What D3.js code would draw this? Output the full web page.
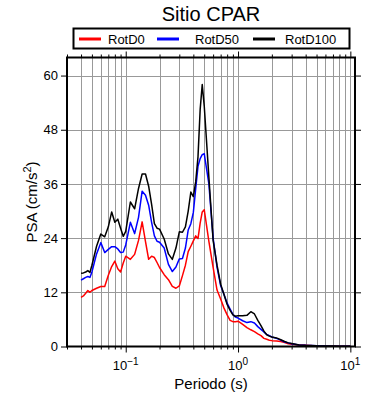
<!DOCTYPE html>
<html>
<head>
<meta charset="utf-8">
<style>
  body { margin: 0; background: white; font-family: "Liberation Sans", Arial, Helvetica, sans-serif; }
  svg { display: block; }
</style>
</head>
<body>
<svg id="chart" width="390" height="400"></svg>
<script src="https://cdn.jsdelivr.net/npm/d3@7"></script>
<script>
// periods (s) and PSA values (cm/s2)
var periods = [0.04, 0.042, 0.044, 0.046, 0.048, 0.05, 0.055, 0.06, 0.065, 0.07, 0.075, 0.08, 0.085, 0.09, 0.095,
  0.1, 0.11, 0.12, 0.13, 0.14, 0.15, 0.16, 0.17, 0.18, 0.19, 0.2, 0.22, 0.24, 0.26, 0.28, 0.3, 0.32, 0.34, 0.36, 0.38,
  0.4, 0.42, 0.44, 0.46, 0.48, 0.5, 0.55, 0.6, 0.65, 0.7, 0.75, 0.8, 0.85, 0.9, 0.95,
  1.0, 1.1, 1.2, 1.3, 1.4, 1.5, 1.6, 1.7, 1.8, 1.9, 2.0, 2.2, 2.4, 2.6, 2.8, 3.0, 3.5, 4.0, 5, 6, 7, 8, 10];

var rotD0 = [10.9, 11.2, 11.8, 12.4, 12.0, 12.4, 12.9, 13.3, 13.3, 15.8, 17.7, 18.9, 17.2, 16.5, 18.5,
  20.0, 19.3, 20.4, 23.5, 27.6, 23.2, 19.3, 20.0, 19.7, 18.6, 17.5, 15.9, 14.8, 13.3, 12.9, 13.4, 15.7, 18.0, 21.0, 22.2,
  23.4, 24.5, 23.9, 27.3, 29.8, 30.3, 23.3, 17.5, 12.5, 10.5, 8.5, 7.0, 5.8, 5.5, 5.5,
  5.6, 4.9, 4.2, 3.7, 3.3, 2.8, 2.4, 1.8, 1.6, 1.4, 1.3, 1.2, 1.1, 0.9, 0.6, 0.5, 0.35, 0.25, 0.12, 0.08, 0.06, 0.05, 0.03];

var rotD50 = [14.7, 15.0, 15.3, 15.5, 15.3, 16.5, 20.5, 23.0, 20.8, 21.5, 22.1, 22.1, 21.6, 20.8, 20.9,
  22.5, 27.5, 25.0, 28.6, 34.4, 33.5, 31.3, 27.5, 24.5, 23.3, 23.1, 21.8, 18.2, 16.6, 17.6, 19.4, 19.5, 21.8, 25.8, 27.2,
  29.7, 35.0, 39.9, 41.6, 42.5, 42.7, 36.0, 24.0, 17.6, 13.5, 11.5, 9.6, 8.3, 7.1, 6.5,
  6.3, 5.7, 5.3, 5.5, 5.2, 4.4, 3.8, 3.2, 2.7, 2.4, 2.1, 1.8, 1.4, 1.0, 0.8, 0.6, 0.35, 0.25, 0.15, 0.1, 0.08, 0.06, 0.04];

var rotD100 = [16.2, 16.3, 16.5, 16.8, 16.4, 18.0, 22.2, 24.9, 24.3, 26.5, 29.8, 27.5, 28.2, 26.2, 24.4,
  25.5, 32.0, 30.5, 35.0, 38.2, 38.2, 35.5, 31.5, 27.2, 26.2, 26.0, 23.8, 20.5, 19.3, 21.8, 25.4, 25.3, 26.5, 30.0, 34.2,
  33.2, 36.5, 42.0, 52.5, 58.0, 53.3, 37.5, 23.5, 18.0, 13.8, 11.5, 9.3, 8.0, 7.0, 6.7,
  6.8, 6.8, 6.9, 7.7, 7.2, 5.8, 4.6, 3.4, 2.6, 2.3, 2.1, 1.9, 1.5, 1.1, 0.8, 0.65, 0.35, 0.25, 0.15, 0.12, 0.1, 0.08, 0.05];

var seriesNames = ["RotD0", "RotD50", "RotD100"];
var seriesColors = ["#ff0000", "#0000ff", "#000000"];
var seriesValues = [rotD0, rotD50, rotD100];
var yTicks = [0, 12, 24, 36, 48, 60];
var xDecades = [0.1, 1, 10];

var svg = d3.select("#chart");
var pLeft = 67, pRight = 355, pTop = 57.5, pBottom = 346.5;

var x = d3.scaleLog().domain([0.03, 11]).range([pLeft, pRight]);
var y = d3.scaleLinear().domain([0, 64]).range([pBottom, pTop]);

// minor tick / grid positions
var minorVals = [];
[0.01, 0.1, 1].forEach(function(dec) {
  for (var k = 1; k <= 9; k++) {
    var v = +(dec * k).toPrecision(3);
    if (v >= 0.03 && v <= 11) minorVals.push(v);
  }
});
minorVals.push(10);

// grid
var grid = svg.append("g").attr("stroke", "#999999").attr("stroke-width", 1);
grid.selectAll("line.v").data(minorVals).join("line").attr("class", "v")
  .attr("x1", function(d) { return Math.round(x(d)) + 0.5; })
  .attr("x2", function(d) { return Math.round(x(d)) + 0.5; })
  .attr("y1", pTop).attr("y2", pBottom);
grid.selectAll("line.h").data(yTicks.slice(1)).join("line").attr("class", "h")
  .attr("x1", pLeft).attr("x2", pRight)
  .attr("y1", function(d) { return Math.round(y(d)) + 0.5; })
  .attr("y2", function(d) { return Math.round(y(d)) + 0.5; });

// curves
var line = d3.line()
  .x(function(d) { return x(d[0]); })
  .y(function(d) { return y(d[1]); });

seriesValues.forEach(function(vals, i) {
  svg.append("path")
    .datum(periods.map(function(p, j) { return [p, vals[j]]; }))
    .attr("fill", "none")
    .attr("stroke", seriesColors[i])
    .attr("stroke-width", 1.5)
    .attr("stroke-linejoin", "round")
    .attr("d", line);
});

// axes ticks
function isMajor(d) { return xDecades.indexOf(d) >= 0; }
var gx = svg.append("g").attr("transform", "translate(0," + pBottom + ")")
  .call(d3.axisBottom(x).tickValues(minorVals).tickFormat("").tickSizeInner(3).tickSizeOuter(0));
gx.selectAll(".tick line").attr("y2", function(d) { return isMajor(d) ? 6 : 3; });
var gxt = svg.append("g").attr("transform", "translate(0," + pTop + ")")
  .call(d3.axisTop(x).tickValues(minorVals).tickFormat("").tickSizeInner(3).tickSizeOuter(0));
gxt.selectAll(".tick line").attr("y2", function(d) { return isMajor(d) ? -6 : -3; });

var gy = svg.append("g").attr("transform", "translate(" + pLeft + ",0)")
  .call(d3.axisLeft(y).tickValues(yTicks).tickSizeInner(6).tickSizeOuter(0).tickPadding(3));
gy.selectAll(".tick text").attr("font-size", 13).attr("font-family", "Liberation Sans, Arial, sans-serif");
var gyr = svg.append("g").attr("transform", "translate(" + pRight + ",0)")
  .call(d3.axisRight(y).tickValues(yTicks).tickFormat("").tickSizeInner(6).tickSizeOuter(0));

[gx, gxt, gy, gyr].forEach(function(g) { g.select(".domain").remove(); });
svg.selectAll(".tick line").attr("stroke", "#000");

// x decade labels with superscripts
var xl = svg.append("g").attr("font-size", 13).attr("text-anchor", "middle").attr("fill", "#000");
var expo = ["\u22121", "0", "1"];
xDecades.forEach(function(d, i) {
  var t = xl.append("text").attr("x", x(d)).attr("y", pBottom + 23);
  t.append("tspan").text("10");
  t.append("tspan").attr("dy", -5).attr("font-size", 10).text(expo[i]);
});

// frame
svg.append("rect").attr("x", pLeft).attr("y", pTop)
  .attr("width", pRight - pLeft).attr("height", pBottom - pTop)
  .attr("fill", "none").attr("stroke", "#000").attr("stroke-width", 2);

// axis titles
svg.append("text").attr("x", (pLeft + pRight) / 2).attr("y", 389)
  .attr("text-anchor", "middle").attr("font-size", 15).text("Periodo (s)");
var yl = svg.append("text").attr("transform", "translate(37," + (pTop + pBottom) / 2 + ") rotate(-90)")
  .attr("text-anchor", "middle").attr("font-size", 15);
yl.append("tspan").text("PSA (cm/s");
yl.append("tspan").attr("dy", -6).attr("font-size", 11).text("2");
yl.append("tspan").attr("dy", 6).text(")");

// title
svg.append("text").attr("x", (pLeft + pRight) / 2).attr("y", 21)
  .attr("text-anchor", "middle").attr("font-size", 20).text("Sitio CPAR");

// legend
var lg = svg.append("g");
lg.append("rect").attr("x", 73.5).attr("y", 28.5).attr("width", 276).attr("height", 20)
  .attr("fill", "white").attr("stroke", "#000").attr("stroke-width", 2);
var legX = [79, 157, 253];
var legTextX = [108, 195, 285];
seriesNames.forEach(function(name, i) {
  lg.append("line").attr("x1", legX[i]).attr("x2", legX[i] + 22)
    .attr("y1", 39).attr("y2", 39)
    .attr("stroke", seriesColors[i]).attr("stroke-width", 3);
  lg.append("text").attr("x", legTextX[i]).attr("y", 43.5)
    .attr("font-size", 13).text(name);
});
</script>
</body>
</html>
